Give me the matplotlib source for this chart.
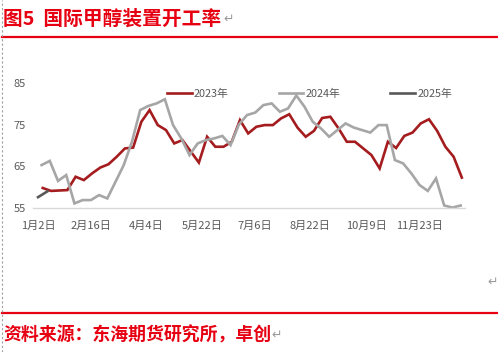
import matplotlib
matplotlib.use('Agg')
import matplotlib.pyplot as plt
import pandas as pd
from matplotlib.lines import Line2D

plt.rcParams['font.family'] = ['Noto Sans CJK SC', 'DejaVu Sans']

TITLE_RED = '#E60012'
TEXT_GRAY = '#595959'
COLORS = {'2023': '#A51C1F', '2024': '#A6A6A6', '2025': '#595959'}

# weekly methanol plant operating rate (%)
dates_2023 = pd.date_range('2023-01-06', periods=52, freq='7D')
rate_2023 = [59.8, 59.1, 59.2, 59.3, 62.5, 61.7, 63.3, 64.7, 65.5, 67.3,
             69.3, 69.5, 75.7, 78.5, 74.9, 73.7, 70.5, 71.3, 68.6, 65.9,
             72.1, 69.7, 69.7, 70.9, 76.1, 72.9, 74.5, 74.9, 74.9, 76.5,
             77.5, 74.3, 72.1, 73.5, 76.6, 76.9, 74.1, 70.9, 70.9, 69.3,
             67.7, 64.5, 70.9, 69.4, 72.3, 73.1, 75.3, 76.3, 73.5, 69.7,
             67.3, 62.3]
dates_2024 = pd.date_range('2024-01-05', periods=52, freq='7D')
rate_2024 = [65.3, 66.3, 61.5, 62.9, 56.1, 56.9, 56.9, 58.1, 57.3, 61.3,
             65.3, 70.9, 78.5, 79.5, 80.1, 81.1, 74.9, 71.7, 67.7, 70.5,
             71.3, 71.7, 72.3, 70.1, 75.0, 77.3, 77.9, 79.7, 80.1, 78.1,
             78.9, 82.0, 79.3, 75.7, 74.1, 72.1, 73.7, 75.3, 74.3, 73.7,
             73.1, 74.9, 74.9, 66.5, 65.7, 63.3, 60.5, 59.1, 62.1, 55.6,
             55.1, 55.6]
dates_2025 = pd.to_datetime(['2025-01-02', '2025-01-10'])
rate_2025 = [57.6, 59.0]

tick_dates = pd.to_datetime(['2023-01-02', '2023-02-16', '2023-04-04', '2023-05-22',
                             '2023-07-06', '2023-08-22', '2023-10-09', '2023-11-23'])
tick_labels = ['1月2日', '2月16日', '4月4日', '5月22日',
               '7月6日', '8月22日', '10月9日', '11月23日']
y_ticks = [55, 65, 75, 85]


def day_offset(dates):
    # days since Jan 2 of each series' own year, so all years share one axis
    return [(d - pd.Timestamp(d.year, 1, 2)).days for d in dates]


W, H = 498, 352
fig = plt.figure(figsize=(W / 100, H / 100), dpi=100)
fig.patch.set_facecolor('white')

ax = fig.add_axes([33 / W, 1 - 208 / H, 432 / W, 125 / H])
ax.plot(day_offset(dates_2023), rate_2023, color=COLORS['2023'], lw=1.9,
        label='2023年', solid_joinstyle='miter')
ax.plot(day_offset(dates_2024), rate_2024, color=COLORS['2024'], lw=1.9,
        label='2024年', solid_joinstyle='miter')
ax.plot(day_offset(dates_2025), rate_2025, color=COLORS['2025'], lw=1.9,
        label='2025年')

ax.set_xlim(-4.3, 363.7)
ax.set_ylim(55, 85)
ax.set_yticks(y_ticks)
ax.set_xticks(day_offset(tick_dates))
ax.set_xticklabels(tick_labels)
ax.tick_params(axis='both', length=0, labelsize=8, colors=TEXT_GRAY)
ax.tick_params(axis='x', pad=9)
ax.tick_params(axis='y', pad=5)
for side in ['top', 'right', 'left']:
    ax.spines[side].set_visible(False)
ax.spines['bottom'].set_color('#D9D9D9')
ax.spines['bottom'].set_linewidth(1)

fig.legend(loc='center', bbox_to_anchor=(309.5 / W, 1 - 94 / H), ncol=3,
           frameon=False, fontsize=7.8, handlelength=2.3, handletextpad=0.2,
           columnspacing=4.6, labelcolor=TEXT_GRAY)

# header, footer and the red rules
fig.text(3 / W, 1 - 19 / H, '图5  国际甲醇装置开工率', color=TITLE_RED,
         fontsize=14.2, fontweight='bold', va='center', ha='left')
fig.text(223 / W, 1 - 19 / H, '↵', color='#9A9A9A', fontsize=9,
         va='center', ha='left', family=['DejaVu Sans'])
fig.text(3 / W, 1 - 335 / H, '资料来源：东海期货研究所，卓创', color=TITLE_RED,
         fontsize=12.9, fontweight='bold', va='center', ha='left')
fig.text(271 / W, 1 - 335 / H, '↵', color='#9A9A9A', fontsize=9,
         va='center', ha='left', family=['DejaVu Sans'])
fig.text(487 / W, 1 - 282 / H, '↵', color='#9A9A9A', fontsize=9,
         va='center', ha='left', family=['DejaVu Sans'])

fig.add_artist(Line2D([2 / W, 1], [1 - 37 / H] * 2, color=TITLE_RED, lw=1.6))
fig.add_artist(Line2D([2 / W, 1], [1 - 313 / H] * 2, color=TITLE_RED, lw=1.6))
fig.add_artist(Line2D([1.5 / W] * 2, [0, 1], color='#A0A0A0', lw=0.8,
                      linestyle=(0, (2, 2))))

fig.savefig('out.png', dpi=100)
